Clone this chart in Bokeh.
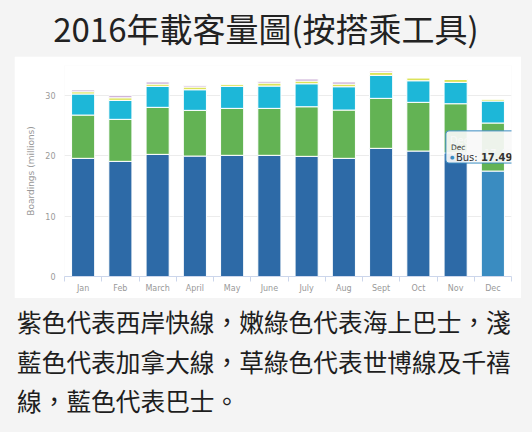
from bokeh.plotting import figure
from bokeh.models import Range1d, FixedTicker, Label, Div, ColumnDataSource
from bokeh.layouts import column
from bokeh.transform import stack
from bokeh.embed import file_html
from bokeh.resources import INLINE

# ---------------- data ----------------
months = ["Jan", "Feb", "March", "April", "May", "June",
          "July", "Aug", "Sept", "Oct", "Nov", "Dec"]
bus = [19.60, 19.10, 20.26, 19.98, 20.10, 20.10, 19.93, 19.60, 21.26, 20.81, 20.50, 17.49]
expo_millennium = [7.18, 6.97, 7.80, 7.58, 7.79, 7.79, 8.23, 8.01, 8.29, 8.08, 8.16, 7.97]
canada_line = [3.49, 3.15, 3.48, 3.42, 3.65, 3.70, 3.81, 3.87, 3.81, 3.58, 3.54, 3.64]
seabus = [0.38, 0.43, 0.38, 0.45, 0.38, 0.50, 0.45, 0.44, 0.50, 0.50, 0.50, 0.34]
west_coast_express = [0.28, 0.33, 0.34, 0.21, 0.00, 0.28, 0.33, 0.34, 0.22, 0.00, 0.00, 0.00]
y_ticks = [0, 10, 20, 30]
hover_index = 11

title_text = "2016年載客量圖(按搭乘工具)"
caption_lines = ["紫色代表西岸快線，嫩綠色代表海上巴士，淺",
                 "藍色代表加拿大線，草綠色代表世博線及千禧",
                 "線，藍色代表巴士。"]

# ---------------- styles ----------------
BUS = "#2d6aa7"
BUS_HOVER = "#3a8cc1"
GREEN = "#63b354"
CYAN = "#1db7d8"
YELLOW = "#dce35a"
PURPLE = "#c09dcc"
AXIS_GREY = "#999999"
TIP_BG = "#f8f8f8"
FONT = "DejaVu Sans"
CJK = "Noto Sans CJK TC"

xs = list(range(len(months)))
src = ColumnDataSource(dict(
    x=xs, bus=bus, expo=expo_millennium, canada=canada_line,
    seabus=seabus, wce=west_coast_express,
    bus_color=[BUS_HOVER if i == hover_index else BUS for i in xs],
))

p = figure(width=507, height=242,
           x_range=Range1d(-0.5, len(months) - 0.5), y_range=Range1d(0, 35),
           output_backend="svg", toolbar_location=None,
           min_border_left=50, min_border_right=10, min_border_top=9, min_border_bottom=22,
           background_fill_color="white", border_fill_color="white",
           outline_line_color=None, margin=(0, 11, 0, 14))

W = 0.62
p.vbar(x="x", top="bus", width=W, fill_color="bus_color", line_color="white",
       line_width=1, source=src)
p.vbar(x="x", bottom=stack("bus"), top=stack("bus", "expo"), width=W,
       fill_color=GREEN, line_color="white", line_width=1, source=src)
p.vbar(x="x", bottom=stack("bus", "expo"), top=stack("bus", "expo", "canada"), width=W,
       fill_color=CYAN, line_color="white", line_width=1, source=src)
p.vbar(x="x", bottom=stack("bus", "expo", "canada"),
       top=stack("bus", "expo", "canada", "seabus"), width=W,
       fill_color=YELLOW, line_color="white", line_width=1, source=src)
p.vbar(x="x", bottom=stack("bus", "expo", "canada", "seabus"),
       top=stack("bus", "expo", "canada", "seabus", "wce"), width=W,
       fill_color=PURPLE, line_color="white", line_width=1, source=src)

# x axis
xa = p.xaxis[0]
xa.ticker = FixedTicker(ticks=xs, minor_ticks=[i - 0.5 for i in range(len(months) + 1)])
xa.major_label_overrides = {i: m for i, m in enumerate(months)}
xa.axis_line_color = "#ccd6eb"
xa.major_tick_line_color = None
xa.major_tick_out = 5
xa.major_tick_in = 0
xa.minor_tick_line_color = "#ccd6eb"
xa.minor_tick_out = 5
xa.minor_tick_in = 0
xa.major_label_standoff = 2
xa.major_label_text_font = FONT
xa.major_label_text_font_size = "8px"
xa.major_label_text_color = AXIS_GREY

# y axis
ya = p.yaxis[0]
ya.ticker = FixedTicker(ticks=y_ticks)
ya.axis_line_color = None
ya.major_tick_line_color = None
ya.major_tick_out = 0
ya.major_tick_in = 0
ya.minor_tick_line_color = None
ya.major_label_standoff = 9
ya.major_label_text_font = FONT
ya.major_label_text_font_size = "8px"
ya.major_label_text_color = AXIS_GREY
ya.axis_label = "Boardings (millions)"
ya.axis_label_text_font = FONT
ya.axis_label_text_font_size = "9px"
ya.axis_label_text_font_style = "normal"
ya.axis_label_text_color = AXIS_GREY
ya.axis_label_standoff = 6

p.xgrid.visible = False
p.ygrid.grid_line_color = "#ececec"

# x axis title (mostly cut off at the card bottom, as in the reference)
p.add_layout(Label(x=(len(months) - 1) / 2, y=0, y_offset=-20, text="Month",
                   text_align="center", text_baseline="top",
                   text_font=FONT, text_font_size="9px", text_color=AXIS_GREY))

# tooltip on the hovered December bus bar
hx, hy = hover_index, bus[hover_index]
p.add_layout(Label(x=hx, y=hy, x_offset=-47, y_offset=8,
                   text=months[hover_index] + "\n• Bus: " + f"{hy:.2f}",
                   text_align="left", text_baseline="bottom",
                   text_font=FONT, text_font_size="10px", text_color=TIP_BG,
                   padding=4, border_radius=3,
                   background_fill_color=TIP_BG, background_fill_alpha=0.92,
                   border_line_color=BUS_HOVER, border_line_width=1))
p.add_layout(Label(x=hx, y=hy, x_offset=-42, y_offset=24, text=months[hover_index],
                   text_align="left", text_baseline="middle",
                   text_font=FONT, text_font_size="7.5px", text_color="#333333"))
p.add_layout(Label(x=hx, y=hy, x_offset=-43, y_offset=14, text="●",
                   text_align="left", text_baseline="middle",
                   text_font=FONT, text_font_size="5px", text_color=BUS_HOVER))
p.add_layout(Label(x=hx, y=hy, x_offset=-37, y_offset=14, text="Bus:",
                   text_align="left", text_baseline="middle",
                   text_font=FONT, text_font_size="10px", text_color="#333333"))
p.add_layout(Label(x=hx, y=hy, x_offset=-12, y_offset=14, text=f"{hy:.2f}",
                   text_align="left", text_baseline="middle",
                   text_font=FONT, text_font_size="10px", text_font_style="bold",
                   text_color="#333333"))

title_div = Div(
    text=('<div style="width:532px;height:56px;line-height:56px;text-align:center;'
          f'font-family:\'{CJK}\';font-size:33px;color:#222;white-space:nowrap;">'
          f'{title_text}</div>'),
    width=532, height=56, margin=0, styles={"overflow": "hidden"})

caption_div = Div(
    text=('<div style="width:515px;height:130px;padding:4px 0 0 17px;'
          f'font-family:\'{CJK}\';font-size:24.7px;line-height:39.5px;color:#1e1e1e;'
          'white-space:nowrap;">' + "<br>".join(caption_lines) + '</div>'),
    width=532, height=134, margin=0, styles={"overflow": "hidden"})

layout = column(title_div, p, caption_div, width=532, height=432,
                styles={"background-color": "#f4f4f4"})

open("out.html", "w").write(file_html(layout, INLINE))
